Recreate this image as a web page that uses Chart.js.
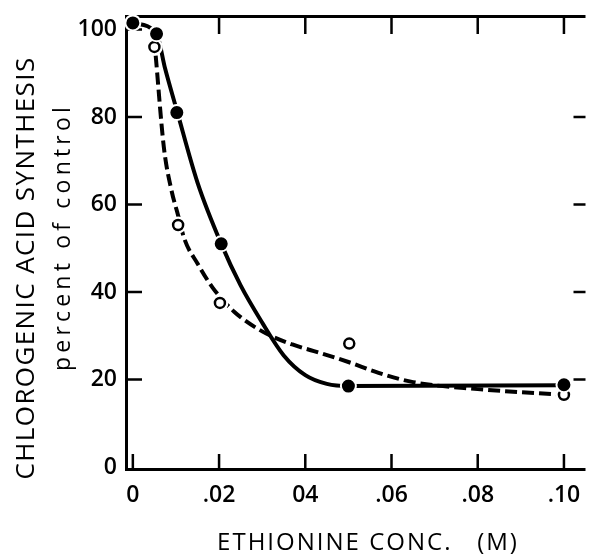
<!DOCTYPE html>
<html><head><meta charset="utf-8">
<script src="https://cdn.jsdelivr.net/npm/chart.js@4"></script>
<style>html,body{margin:0;padding:0;background:#fff}#wrap{width:595px;height:554px}</style>
</head><body><div id="wrap"><canvas id="c" width="595" height="554"></canvas></div>
<script>
// ---- data ----
const xTicks = [0, 0.02, 0.04, 0.06, 0.08, 0.10];
const xTickLabels = ['0', '.02', '04', '.06', '.08', '.10'];
const yTicks = [0, 20, 40, 60, 80, 100];
const yTickLabels = ['0', '20', '40', '60', '80', '100'];

const filledX = [0, 0.0055, 0.0102, 0.0205, 0.05, 0.10];
const filledY = [101.5, 99, 81, 51, 18.5, 18.8];
const openX = [0.005, 0.0105, 0.0202, 0.0502, 0.10];
const openY = [96, 55.3, 37.5, 28.2, 16.5];

const solidCurveX = [0, 0.0055, 0.0075, 0.0102, 0.015, 0.0205, 0.025, 0.03, 0.035, 0.04, 0.045, 0.05, 0.10];
const solidCurveY = [101.5, 99, 91, 81.5, 65, 51, 41.5, 33, 25.5, 21, 19, 18.5, 18.7];
const dashCurveX = [0.0053, 0.0072, 0.0089, 0.0105, 0.012, 0.015, 0.0185, 0.0235, 0.03, 0.037, 0.042, 0.05, 0.057, 0.065, 0.08, 0.10];
const dashCurveY = [94, 73, 63.5, 57.5, 52, 46.5, 41, 35.5, 31, 28, 26.5, 24, 21.5, 19.4, 17.8, 16.5];

const xTitle = 'ETHIONINE CONC.   (M)';
const yTitle = 'CHLOROGENIC ACID SYNTHESIS';
const ySubTitle = 'percent of control';

const FONT = "'Open Sans', 'DejaVu Sans', sans-serif";
const pts = (xs, ys) => xs.map((x, i) => ({x: x, y: ys[i]}));

const framePlugin = {
  id: 'frame',
  beforeDatasetsDraw(chart) {
    const ctx = chart.ctx, ca = chart.chartArea;
    const xs = chart.scales.x, ys = chart.scales.y;
    ctx.save();
    ctx.strokeStyle = '#000';
    ctx.lineCap = 'butt';
    ctx.lineWidth = 3;
    ctx.beginPath();
    ctx.moveTo(ca.left + 1.5, ca.top);
    ctx.lineTo(ca.left + 1.5, ca.bottom);
    ctx.moveTo(ca.left, ca.bottom - 1.5);
    ctx.lineTo(ca.right, ca.bottom - 1.5);
    ctx.moveTo(ca.left, ca.top + 1.5);
    ctx.lineTo(ca.right, ca.top + 1.5);
    ctx.stroke();
    ctx.lineWidth = 2.5;
    ctx.beginPath();
    xTicks.forEach(v => {
      const p = xs.getPixelForValue(v);
      ctx.moveTo(p, ca.bottom); ctx.lineTo(p, ca.bottom - 17);
      if (v > 0) { ctx.moveTo(p, ca.top); ctx.lineTo(p, ca.top + 19); }
    });
    yTicks.forEach(v => {
      if (v <= 0) return;
      const p = ys.getPixelForValue(v);
      ctx.moveTo(ca.left, p); ctx.lineTo(ca.left + 17, p);
      if (v < 100) { ctx.moveTo(ca.right, p); ctx.lineTo(ca.right - 12, p); }
    });
    ctx.stroke();
    ctx.restore();
  },
  afterDraw(chart) {
    const ctx = chart.ctx;
    ctx.save();
    ctx.fillStyle = '#000';
    ctx.textAlign = 'center';
    ctx.textBaseline = 'middle';
    ctx.font = "24px " + FONT;
    ctx.letterSpacing = '2px';
    ctx.fillText(xTitle, 368, 543);
    ctx.translate(27, 268);
    ctx.rotate(-Math.PI / 2);
    ctx.font = "26px " + FONT;
    ctx.letterSpacing = '1.4px';
    ctx.fillText(yTitle, 0, 0);
    ctx.restore();
    ctx.save();
    ctx.fillStyle = '#000';
    ctx.textAlign = 'center';
    ctx.textBaseline = 'middle';
    ctx.translate(63, 237);
    ctx.rotate(-Math.PI / 2);
    ctx.font = "23px " + FONT;
    ctx.letterSpacing = '4.2px';
    ctx.fillText(ySubTitle, 0, 0);
    ctx.restore();
  }
};

new Chart(document.getElementById('c'), {
  type: 'scatter',
  data: {
    datasets: [
      {label: 'filled', data: pts(filledX, filledY), showLine: false,
       pointRadius: 7.5, pointBackgroundColor: '#000', pointBorderColor: '#fff', pointBorderWidth: 2},
      {label: 'open', data: pts(openX, openY), showLine: false,
       pointRadius: 5, pointBackgroundColor: '#fff', pointBorderColor: '#000', pointBorderWidth: 2.5},
      {label: 'open halo', data: pts(openX, openY), showLine: false,
       pointRadius: 8.5, pointBackgroundColor: '#fff', pointBorderColor: '#fff', pointBorderWidth: 0},
      {label: 'solid', data: pts(solidCurveX, solidCurveY), showLine: true, pointRadius: 0,
       borderColor: '#000', borderWidth: 4, cubicInterpolationMode: 'monotone', fill: false},
      {label: 'dashed', data: pts(dashCurveX, dashCurveY), showLine: true, pointRadius: 0,
       borderColor: '#000', borderWidth: 4, borderDash: [12, 5], cubicInterpolationMode: 'monotone', fill: false}
    ]
  },
  options: {
    responsive: false, animation: false, devicePixelRatio: 1,
    layout: {padding: {top: 15, right: 0, bottom: 0, left: 0}},
    plugins: {legend: {display: false}, tooltip: {enabled: false}},
    scales: {
      x: {
        type: 'linear', min: -0.00182, max: 0.105,
        afterBuildTicks: s => { s.ticks = xTicks.map(v => ({value: v})); },
        afterFit: s => { s.height = 83; s.paddingLeft = 0; s.paddingRight = 0; },
        grid: {display: false, drawTicks: false}, border: {display: false},
        ticks: {padding: 11, color: '#000', font: {family: FONT, size: 23, weight: '600'}, maxRotation: 0, autoSkip: false,
                callback: (v, i) => xTickLabels[i]}
      },
      y: {
        type: 'linear', min: -0.91, max: 103.3,
        afterBuildTicks: s => { s.ticks = yTicks.map(v => ({value: v})); },
        afterFit: s => { s.width = 125; s.paddingTop = 0; s.paddingBottom = 0; },
        grid: {display: false, drawTicks: false}, border: {display: false},
        ticks: {padding: 8, color: '#000', font: {family: FONT, size: 23, weight: '600'}, autoSkip: false,
                callback: (v, i) => yTickLabels[i]}
      }
    }
  },
  plugins: [framePlugin]
});
</script>
</body></html>
